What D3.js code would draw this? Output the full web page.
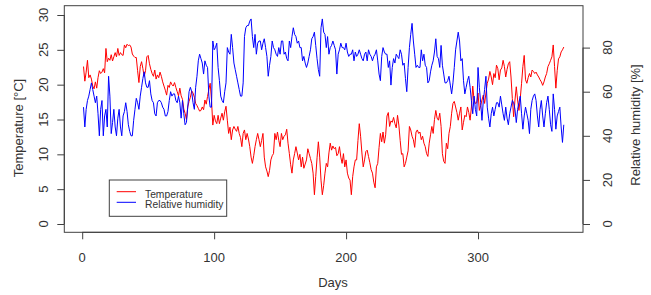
<!DOCTYPE html>
<html>
<head>
<meta charset="utf-8">
<script src="https://cdn.jsdelivr.net/npm/d3@7"></script>
<style>
  body { margin: 0; background: #fff; }
  text { font-family: "Liberation Sans", Arial, sans-serif; fill: #333; }
</style>
</head>
<body>
<script>
// daily mean temperature [°C], days 1..365
const temperature = [
  22.6, 20.5, 21.8, 23.5, 21.0, 21.4, 20.8, 19.8, 19.4, 20.4,
  19.5, 21.0, 22.0, 21.6, 21.8, 22.3, 21.7, 25.2, 23.3, 23.8,
  23.5, 24.3, 23.4, 24.0, 24.6, 24.0, 25.2, 24.2, 24.6, 24.3,
  24.2, 25.7, 25.3, 25.8, 25.6, 25.7, 25.4, 24.4, 24.1, 23.9,
  23.9, 22.0, 20.3, 22.6, 23.3, 22.3, 21.2, 22.0, 24.0, 24.2,
  23.0, 22.2, 21.6, 21.2, 22.1, 20.8, 21.4, 21.0, 21.8, 21.2,
  20.4, 19.8, 19.2, 18.5, 19.9, 19.6, 20.4, 20.0, 19.8, 20.3,
  19.6, 19.0, 18.4, 19.5, 18.4, 17.9, 16.5, 15.9, 15.0, 16.8,
  17.6, 18.2, 19.1, 18.8, 18.2, 17.3, 17.0, 16.6, 16.2, 16.3,
  16.8, 16.4, 17.8, 17.2, 18.3, 19.3, 20.2, 17.8, 14.2, 15.6,
  14.8, 14.4, 15.6, 14.4, 15.2, 15.9, 14.9, 16.1, 16.9, 14.9,
  13.0, 13.9, 12.1, 13.5, 14.0, 13.6, 13.3, 14.0, 13.0, 12.4,
  11.1, 13.0, 13.5, 12.1, 13.0, 12.2, 11.1, 9.6, 8.7, 9.8,
  11.1, 12.1, 13.0, 12.1, 11.1, 12.0, 13.0, 9.6, 8.2, 7.6,
  6.8, 7.7, 9.2, 9.8, 10.1, 13.0, 12.1, 13.2, 12.0, 11.1,
  13.0, 12.1, 12.6, 12.8, 13.6, 11.6, 10.1, 8.5, 7.3, 9.2,
  10.1, 11.1, 10.2, 9.2, 10.0, 8.2, 9.6, 8.0, 8.6, 9.2,
  10.8, 10.1, 9.4, 8.7, 7.3, 4.2, 6.8, 9.5, 11.8, 9.6,
  6.3, 4.2, 5.5, 7.3, 8.7, 8.2, 10.2, 11.6, 10.6, 11.2,
  10.8, 11.0, 9.8, 10.1, 11.1, 9.6, 8.7, 10.1, 8.2, 9.2,
  7.3, 6.6, 6.3, 4.2, 6.8, 8.2, 9.2, 9.2, 12.0, 14.4,
  12.6, 10.2, 8.2, 9.2, 10.4, 10.6, 9.7, 8.8, 7.8, 7.3,
  6.0, 5.2, 8.2, 8.7, 11.0, 13.0, 11.8, 13.2, 11.6, 12.8,
  15.5, 16.0, 14.0, 14.8, 14.6, 15.3, 14.4, 13.8, 15.6, 14.2,
  12.0, 10.0, 10.1, 8.2, 8.7, 9.6, 10.5, 14.0, 13.5, 12.6,
  12.1, 11.0, 13.2, 13.5, 13.0, 13.2, 12.1, 12.6, 11.6, 11.1,
  10.1, 9.7, 11.6, 12.8, 14.0, 13.0, 15.0, 16.3, 15.2, 14.9,
  15.9, 14.0, 10.1, 9.0, 8.7, 11.6, 10.8, 13.0, 14.0, 15.9,
  17.3, 17.6, 16.8, 16.0, 14.9, 15.9, 16.8, 13.5, 14.6, 15.6,
  15.4, 16.8, 16.0, 14.9, 16.8, 19.8, 17.8, 17.3, 17.4, 18.8,
  16.3, 17.0, 17.8, 18.5, 17.3, 18.8, 20.2, 20.8, 21.9, 21.1,
  20.0, 21.6, 21.0, 22.8, 22.3, 20.7, 22.1, 22.4, 23.5, 22.6,
  21.1, 22.2, 23.0, 23.3, 21.1, 18.0, 15.4, 17.8, 19.7, 17.8,
  16.3, 18.0, 20.2, 22.6, 24.2, 20.7, 20.2, 21.0, 21.6, 21.1,
  22.1, 21.9, 21.6, 21.8, 21.4, 21.1, 20.7, 20.4, 19.9, 20.4,
  21.1, 21.6, 22.6, 23.0, 23.5, 24.0, 25.7, 22.6, 19.5, 22.0,
  23.7, 24.0, 24.7, 25.0, 25.4
];

// daily relative humidity [%], days 1..365
const humidity = [
  53, 44, 52, 56, 58, 61, 64, 61, 58, 55,
  58, 50, 40, 52, 56, 40, 49, 52, 44, 67,
  58, 41, 46, 52, 44, 40, 48, 52, 44, 40,
  49, 51, 55, 51, 45, 42, 40, 40, 47, 52,
  57, 55, 52, 58, 62, 66, 69, 64, 62, 62,
  65, 59, 56, 55, 50, 49, 55, 56, 56, 55,
  53, 52, 49, 49, 51, 56, 60, 58, 59, 59,
  56, 55, 58, 55, 48, 56, 50, 45, 46, 53,
  60, 62, 60, 55, 52, 62, 67, 74, 77, 75,
  73, 68, 74, 72, 71, 58, 53, 53, 83, 79,
  80, 82, 71, 65, 58, 56, 55, 60, 64, 80,
  78, 77, 86, 80, 73, 70, 67, 64, 61, 58,
  58, 64, 85, 89, 90, 90, 92, 93, 85, 80,
  86, 77, 82, 83, 83, 79, 82, 84, 80, 76,
  67, 72, 76, 83, 80, 79, 77, 76, 80, 77,
  83, 83, 77, 78, 75, 74, 83, 80, 85, 89,
  86, 85, 82, 83, 80, 80, 74, 76, 73, 71,
  73, 76, 79, 84, 85, 87, 81, 75, 70, 67,
  89, 93, 87, 86, 80, 85, 77, 80, 81, 83,
  81, 79, 68, 77, 79, 82, 80, 80, 79, 82,
  78, 76, 77, 77, 79, 74, 78, 76, 77, 79,
  77, 75, 74, 77, 78, 74, 79, 77, 76, 74,
  76, 77, 79, 74, 68, 65, 76, 80, 78, 77,
  77, 71, 74, 63, 71, 75, 73, 77, 76, 75,
  79, 77, 72, 73, 66, 60, 71, 80, 86, 91,
  83, 77, 71, 72, 71, 71, 79, 74, 77, 72,
  71, 64, 65, 69, 72, 74, 78, 84, 76, 75,
  71, 81, 72, 68, 64, 64, 65, 67, 63, 59,
  64, 71, 79, 83, 87, 83, 74, 75, 65, 59,
  62, 65, 67, 62, 56, 50, 58, 52, 49, 71,
  62, 55, 47, 56, 61, 67, 53, 48, 44, 50,
  53, 49, 52, 55, 55, 53, 58, 54, 50, 47,
  53, 48, 45, 50, 53, 56, 55, 52, 46, 52,
  55, 58, 50, 43, 49, 53, 50, 47, 41, 52,
  56, 58, 59, 56, 49, 44, 52, 56, 49, 44,
  50, 55, 58, 52, 45, 42, 59, 52, 43, 49,
  51, 53, 44, 37, 45
];

const days = d3.range(1, temperature.length + 1);
const dayTicks = [0, 100, 200, 300];
const tempTicks = [0, 5, 10, 15, 20, 25, 30];
const rhTicks = [0, 20, 40, 60, 80];
const legendLabels = ["Temperature", "Relative humidity"];
const colors = ["#ff0000", "#0000ff"];

const W = 651, H = 295;
const box = { left: 64.3, right: 583, top: 5.7, bottom: 232.3 };

const svg = d3.select("body").append("svg")
    .attr("width", W)
    .attr("height", H);

svg.append("rect").attr("width", W).attr("height", H).attr("fill", "#fff");

// scales (R style: 4% padding around the data range)
const x = d3.scaleLinear().domain([-13.56, 379.56]).range([box.left, box.right]);
const yT = d3.scaleLinear().domain([0, 30]).range([224, 15]);
const yRH = d3.scaleLinear().domain([0, 80]).range([224, 47.6]);

// lines
const tempLine = d3.line().x((d, i) => x(days[i])).y(d => yT(d));
const rhLine = d3.line().x((d, i) => x(days[i])).y(d => yRH(d));

svg.append("path")
    .datum(temperature)
    .attr("fill", "none")
    .attr("stroke", colors[0])
    .attr("stroke-width", 1)
    .attr("d", tempLine);

svg.append("path")
    .datum(humidity)
    .attr("fill", "none")
    .attr("stroke", colors[1])
    .attr("stroke-width", 1)
    .attr("d", rhLine);

// plot box
svg.append("rect")
    .attr("x", box.left).attr("y", box.top)
    .attr("width", box.right - box.left)
    .attr("height", box.bottom - box.top)
    .attr("fill", "none")
    .attr("stroke", "#404040")
    .attr("stroke-width", 1);

// axes, drawn like R: line only between first and last tick
function styleAxis(g) {
    g.select(".domain").attr("stroke", "#404040");
    g.selectAll(".tick line").attr("stroke", "#404040");
    g.selectAll(".tick text").remove();
}

svg.append("g")
    .attr("transform", `translate(0,${box.bottom})`)
    .call(d3.axisBottom(x).tickValues(dayTicks).tickSize(7).tickSizeOuter(0))
    .call(g => g.select(".domain").attr("d", `M${x(0)},0H${x(300)}`))
    .call(styleAxis);

svg.append("g")
    .attr("transform", `translate(${box.left},0)`)
    .call(d3.axisLeft(yT).tickValues(tempTicks).tickSize(7).tickSizeOuter(0))
    .call(g => g.select(".domain").attr("d", `M0,${yT(0)}V${yT(30)}`))
    .call(styleAxis);

svg.append("g")
    .attr("transform", `translate(${box.right},0)`)
    .call(d3.axisRight(yRH).tickValues(rhTicks).tickSize(7).tickSizeOuter(0))
    .call(g => g.select(".domain").attr("d", `M0,${yRH(0)}V${yRH(80)}`))
    .call(styleAxis);

// tick labels
svg.selectAll(".xlab").data(dayTicks).enter().append("text")
    .attr("x", d => x(d)).attr("y", 262)
    .attr("text-anchor", "middle")
    .style("font-size", "13px")
    .text(d => d);

svg.selectAll(".tlab").data(tempTicks).enter().append("text")
    .attr("transform", d => `translate(48,${yT(d)}) rotate(-90)`)
    .attr("text-anchor", "middle")
    .style("font-size", "13px")
    .text(d => d);

svg.selectAll(".rlab").data(rhTicks).enter().append("text")
    .attr("transform", d => `translate(612,${yRH(d)}) rotate(-90)`)
    .attr("text-anchor", "middle")
    .style("font-size", "13px")
    .text(d => d);

// axis titles
svg.append("text")
    .attr("x", 333).attr("y", 286.5)
    .attr("text-anchor", "middle")
    .style("font-size", "13px")
    .text("Days");

svg.append("text")
    .attr("transform", "translate(23,128) rotate(-90)")
    .attr("text-anchor", "middle")
    .style("font-size", "13px")
    .text("Temperature [°C]");

svg.append("text")
    .attr("transform", "translate(640,125) rotate(-90)")
    .attr("text-anchor", "middle")
    .style("font-size", "13px")
    .text("Relative humidity [%]");

// legend
svg.append("rect")
    .attr("x", 109.3).attr("y", 180)
    .attr("width", 117.4).attr("height", 36.3)
    .attr("fill", "#fff")
    .attr("stroke", "#404040");

const leg = svg.selectAll(".leg").data(legendLabels).enter().append("g")
    .attr("transform", (d, i) => `translate(0,${191.7 + i * 10.6})`);

leg.append("line")
    .attr("x1", 116.7).attr("x2", 136)
    .attr("stroke", (d, i) => colors[i])
    .attr("stroke-width", 1);

leg.append("text")
    .attr("x", 145).attr("y", 5.8)
    .style("font-size", "10.3px")
    .text(d => d);
</script>
</body>
</html>
